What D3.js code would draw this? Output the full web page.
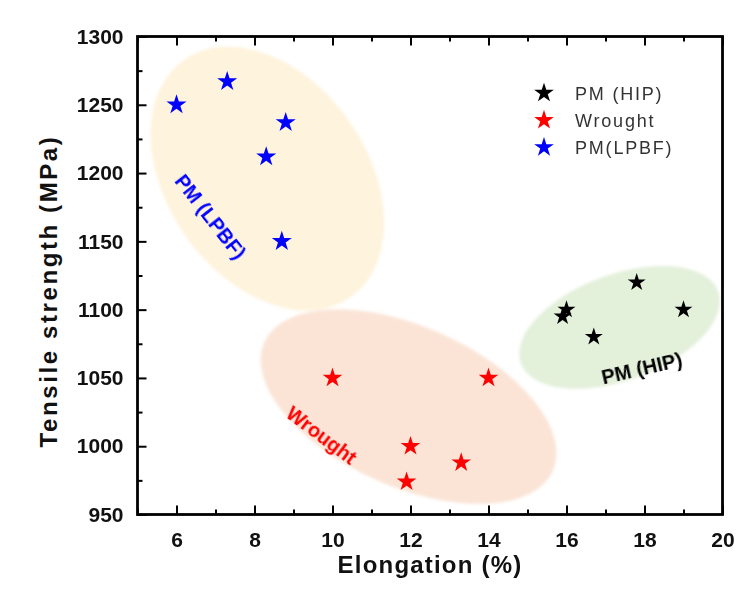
<!DOCTYPE html>
<html>
<head>
<meta charset="utf-8">
<script src="https://cdn.jsdelivr.net/npm/d3@7"></script>
<style>
  html, body { margin: 0; padding: 0; background: #fff; }
  svg { display: block; font-family: Arial, "Liberation Sans", Helvetica, sans-serif; }
</style>
</head>
<body>
<svg id="chart" width="748" height="596"></svg>
<script>
// ---------------- data ----------------
const seriesNames = ["PM (HIP)", "Wrought", "PM(LPBF)"];
const hipElong = [16.0, 15.9, 16.7, 17.8, 19.0];
const hipStrength = [1100, 1095, 1080, 1120, 1100];
const wroughtElong = [10.0, 14.0, 12.0, 13.3, 11.9];
const wroughtStrength = [1050, 1050, 1000, 988, 974];
const lpbfElong = [6.0, 7.3, 8.8, 8.3, 8.7];
const lpbfStrength = [1250, 1267, 1237, 1212, 1150];
const xTicks = [6, 8, 10, 12, 14, 16, 18, 20];
const yTicks = [950, 1000, 1050, 1100, 1150, 1200, 1250, 1300];
const groupLabels = ["PM (LPBF)", "Wrought", "PM (HIP)"];

// ---------------- layout ----------------
const W = 748, H = 596;
const L = 137.5, R = 722.5, T = 36.5, B = 514.5;
const x = d3.scaleLinear().domain([5, 20]).range([L, R]);
const y = d3.scaleLinear().domain([950, 1300]).range([B, T]);

const colors = { "PM (HIP)": "#000000", "Wrought": "#ff0000", "PM(LPBF)": "#0000ff" };
const series = [
  { name: seriesNames[0], xs: hipElong, ys: hipStrength, size: 100 },
  { name: seriesNames[1], xs: wroughtElong, ys: wroughtStrength, size: 120 },
  { name: seriesNames[2], xs: lpbfElong, ys: lpbfStrength, size: 125 }
];

const svg = d3.select("#chart");
const defs = svg.append("defs");
defs.append("filter").attr("id", "soft").attr("x", "-10%").attr("y", "-10%").attr("width", "120%").attr("height", "120%")
  .append("feGaussianBlur").attr("stdDeviation", 1.6);

// ---------------- group ellipses (annotation shapes) ----------------
const ellipses = [
  { cx: 8.33, cy: 1196, rx: 145, ry: 100, rot: 55, fill: "#fef3dc" },
  { cx: 11.95, cy: 1029, rx: 158, ry: 80, rot: 24, fill: "#fbe4d6" },
  { cx: 17.36, cy: 1087, rx: 105, ry: 53, rot: -20, fill: "#e3f0da" }
];
svg.append("g").attr("filter", "url(#soft)")
  .selectAll("ellipse").data(ellipses).join("ellipse")
  .attr("transform", d => `translate(${x(d.cx)},${y(d.cy)}) rotate(${d.rot})`)
  .attr("rx", d => d.rx).attr("ry", d => d.ry)
  .attr("fill", d => d.fill);

// ---------------- group labels ----------------
const labelSpecs = [
  { text: groupLabels[0], cx: 6.87, cy: 1168, rot: 52, color: "#0000ff" },
  { text: groupLabels[1], cx: 9.72, cy: 1008, rot: 37, color: "#ff0000" },
  { text: groupLabels[2], cx: 17.93, cy: 1057, rot: -13, color: "#000000" }
];
svg.append("g").selectAll("text").data(labelSpecs).join("text")
  .attr("transform", d => `translate(${x(d.cx)},${y(d.cy)}) rotate(${d.rot})`)
  .attr("text-anchor", "middle").attr("dy", "0.35em")
  .attr("font-size", 20).attr("font-weight", "bold")
  .attr("fill", d => d.color)
  .text(d => d.text);

// ---------------- axes ----------------
const xMinor = d3.range(5, 21, 1).filter(v => v % 2 === 1);
const yMinor = d3.range(950, 1301, 25).filter(v => v % 50 !== 0);

function styleAxis(g) {
  g.select(".domain").remove();
  g.selectAll(".tick line").attr("stroke", "#000").attr("stroke-width", 2);
  g.selectAll("text").attr("font-size", 21).attr("font-weight", "bold").attr("fill", "#111");
}
// bottom
svg.append("g").attr("transform", `translate(0,${B})`)
  .call(d3.axisBottom(x).tickValues(xTicks).tickSize(-9).tickPadding(18).tickFormat(d3.format("d")))
  .call(styleAxis);
svg.append("g").attr("transform", `translate(0,${B})`)
  .call(d3.axisBottom(x).tickValues(xMinor).tickSize(-5).tickFormat(""))
  .call(styleAxis);
// top
svg.append("g").attr("transform", `translate(0,${T})`)
  .call(d3.axisTop(x).tickValues(xTicks).tickSize(-9).tickFormat(""))
  .call(styleAxis);
svg.append("g").attr("transform", `translate(0,${T})`)
  .call(d3.axisTop(x).tickValues(xMinor).tickSize(-5).tickFormat(""))
  .call(styleAxis);
// left
svg.append("g").attr("transform", `translate(${L},0)`)
  .call(d3.axisLeft(y).tickValues(yTicks).tickSize(-9).tickPadding(14).tickFormat(d3.format("d")))
  .call(styleAxis);
svg.append("g").attr("transform", `translate(${L},0)`)
  .call(d3.axisLeft(y).tickValues(yMinor).tickSize(-5).tickFormat(""))
  .call(styleAxis);

// frame
svg.append("rect").attr("x", L).attr("y", T).attr("width", R - L).attr("height", B - T)
  .attr("fill", "none").attr("stroke", "#000").attr("stroke-width", 2.8);

// axis titles
svg.append("text").attr("x", (L + R) / 2).attr("y", 573)
  .attr("text-anchor", "middle").attr("font-size", 24).attr("font-weight", "bold")
  .attr("letter-spacing", 1.2).attr("fill", "#111")
  .text("Elongation (%)");
svg.append("text").attr("transform", `translate(57,${291}) rotate(-90)`)
  .attr("text-anchor", "middle").attr("font-size", 24).attr("font-weight", "bold")
  .attr("letter-spacing", 2.6).attr("fill", "#111")
  .text("Tensile strength (MPa)");

// ---------------- points ----------------
const star = d3.symbol().type(d3.symbolStar);
series.forEach(s => {
  svg.append("g").selectAll("path").data(s.xs.map((v, i) => [v, s.ys[i]])).join("path")
    .attr("transform", d => `translate(${x(d[0])},${y(d[1])})`)
    .attr("d", star.size(s.size)())
    .attr("fill", colors[s.name]);
});

// ---------------- legend ----------------
const legend = svg.append("g").attr("transform", "translate(544,93)");
const li = legend.selectAll("g").data(seriesNames).join("g")
  .attr("transform", (d, i) => `translate(0,${i * 27.2})`);
li.append("path").attr("d", star.size(120)()).attr("fill", d => colors[d]);
li.append("text").attr("x", 31).attr("y", 6.5)
  .attr("font-size", 18).attr("letter-spacing", 1.8).attr("fill", "#333")
  .text(d => d);
</script>
</body>
</html>
